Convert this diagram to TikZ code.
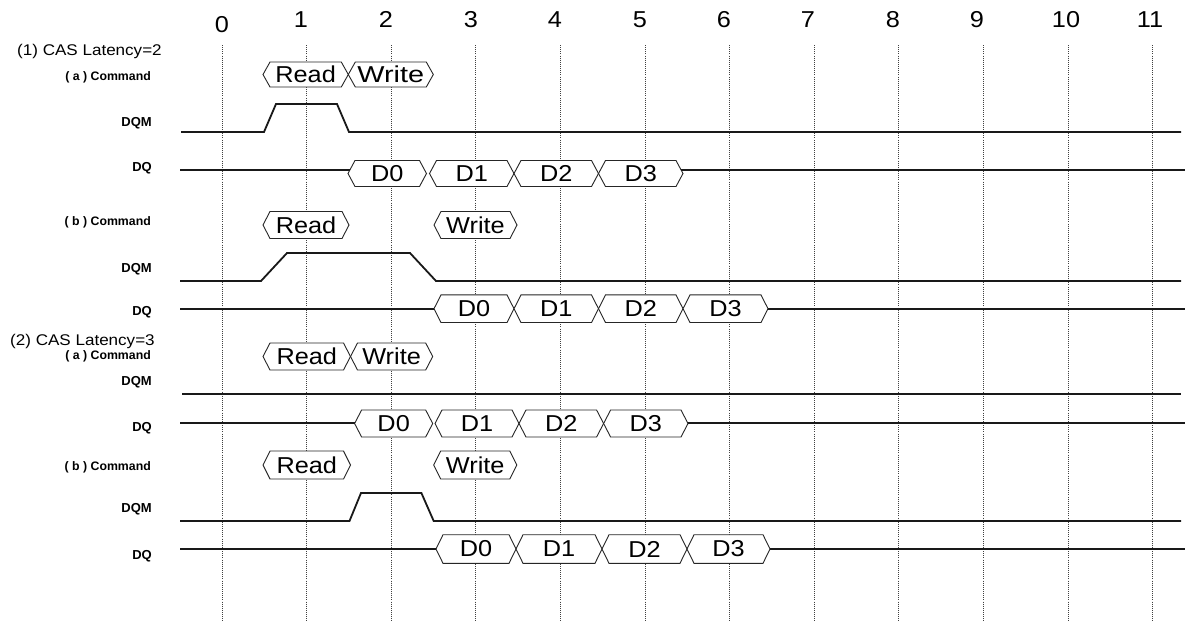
\documentclass[tikz,border=0pt]{standalone}
\usepackage{fontspec}
\setmainfont{Liberation Sans}
\newfontfamily\widefont{Liberation Sans}[FakeStretch=1.1]
\newcommand{\HexCell}[6]{%
  \draw[hexline] (#2,#4) -- (#2+7,#4-#5) -- (#3-7,#4-#5) -- (#3,#4) -- (#3-7,#4+#5) -- (#2+7,#4+#5) -- cycle;
  \node[hextext] (#1) at ({(#2+#3)/2},#4) {#6};
}
\begin{document}
\begin{tikzpicture}[x=1pt,y=-1pt,
  gridline/.style={line width=0.8pt, dash pattern=on 1pt off 1.1pt, black!75},
  sig/.style={line width=1.8pt, black!90},
  hexline/.style={line width=0.9pt, black!85, fill=white},
  hextext/.style={inner sep=0pt, font=\widefont\fontsize{23}{23}\selectfont},
  ticklbl/.style={inner sep=0pt, anchor=base, font=\widefont\fontsize{23}{23}\selectfont},
  titlelbl/.style={inner sep=0pt, anchor=base west, font=\widefont\fontsize{15.5}{15.5}\selectfont},
  cmdlbl/.style={inner sep=0pt, anchor=base east, font=\bfseries\fontsize{12.3}{12.3}\selectfont},
  siglbl/.style={inner sep=0pt, anchor=base east, font=\bfseries\fontsize{13}{13}\selectfont}]
\useasboundingbox (0,0) rectangle (1186,622);
\fill[white] (0,0) rectangle (1186,622);

% grid lines and tick labels
\foreach \k in {0,...,11}{
  \coordinate (gt\k) at ({222+84.6*\k},45);
  \coordinate (gb\k) at ({222+84.6*\k},621);
  \draw[gridline] (gt\k) -- (gb\k);
}
\node[ticklbl] (t0) at (222,32) {0};
\node[ticklbl] (t1) at (301,27.5) {1};
\node[ticklbl] (t2) at (386,27.5) {2};
\node[ticklbl] (t3) at (471,27.5) {3};
\node[ticklbl] (t4) at (555,27.5) {4};
\node[ticklbl] (t5) at (640,27.5) {5};
\node[ticklbl] (t6) at (724,27.5) {6};
\node[ticklbl] (t7) at (808,27.5) {7};
\node[ticklbl] (t8) at (893,27.5) {8};
\node[ticklbl] (t9) at (977,27.5) {9};
\node[ticklbl] (t10) at (1066,27.5) {10};
\node[ticklbl] (t11) at (1150,27.5) {11};

% ===== (1) CAS Latency = 2 =====
\node[titlelbl] (title1) at (17,55) {(1) CAS Latency=2};
% (a)
\node[cmdlbl] (c1a) at (151,80) {( a ) Command};
\HexCell{r1a}{263}{348.3}{74.5}{12.5}{Read}
\HexCell{w1a}{348.3}{433.3}{74.5}{12.5}{\scalebox{1.14}[1]{Write}}
\node[siglbl] (m1a) at (152,126.7) {DQM};
\coordinate (m1as) at (181,132);
\coordinate (m1ae) at (1181,132);
\draw[sig] (m1as) -- (264,132) -- (276,104) -- (337,104) -- (349,132) -- (m1ae);
\node[siglbl] (q1a) at (152,171) {DQ};
\HexCell{d01a}{348}{426.5}{173.5}{13}{D0}
\HexCell{d11a}{429.5}{514}{173.5}{13}{D1}
\HexCell{d21a}{514}{598.5}{173.5}{13}{D2}
\HexCell{d31a}{598.5}{683}{173.5}{13}{D3}
\coordinate (q1as) at (180,170);
\coordinate (q1al) at (349.9,170);
\coordinate (q1ar) at (681.1,170);
\coordinate (q1ae) at (1185,170);
\draw[sig] (q1as) -- (q1al);
\draw[sig] (q1ar) -- (q1ae);
% (b)
\node[cmdlbl] (c1b) at (151,225.5) {( b ) Command};
\HexCell{r1b}{263}{349}{225}{13.5}{Read}
\HexCell{w1b}{434}{517}{225}{13.5}{Write}
\node[siglbl] (m1b) at (152,272) {DQM};
\coordinate (m1bs) at (180,281);
\coordinate (m1be) at (1181,281);
\draw[sig] (m1bs) -- (261,281) -- (287,253) -- (410,253) -- (436,281) -- (m1be);
\node[siglbl] (q1b) at (152,315.5) {DQ};
\HexCell{d01b}{434}{514}{308.7}{13.8}{D0}
\HexCell{d11b}{514}{598.5}{308.7}{13.8}{D1}
\HexCell{d21b}{598.5}{683}{308.7}{13.8}{D2}
\HexCell{d31b}{683}{768}{308.7}{13.8}{D3}
\coordinate (q1bs) at (180,308.7);
\coordinate (q1bl) at (434,308.7);
\coordinate (q1br) at (768,308.7);
\coordinate (q1be) at (1185,308.7);
\draw[sig] (q1bs) -- (q1bl);
\draw[sig] (q1br) -- (q1be);

% ===== (2) CAS Latency = 3 =====
\node[titlelbl] (title2) at (10,345) {(2) CAS Latency=3};
% (a)
\node[cmdlbl] (c2a) at (151,359.5) {( a ) Command};
\HexCell{r2a}{263}{350.5}{356.5}{13.5}{Read}
\HexCell{w2a}{350.5}{432.7}{356.5}{13.5}{Write}
\node[siglbl] (m2a) at (152,385.7) {DQM};
\coordinate (m2as) at (182,394);
\coordinate (m2ae) at (1181,394);
\draw[sig] (m2as) -- (m2ae);
\node[siglbl] (q2a) at (152,431) {DQ};
\HexCell{d02a}{354.6}{432.7}{423.5}{13.5}{D0}
\HexCell{d12a}{435}{519}{423.5}{13.5}{D1}
\HexCell{d22a}{519}{603.6}{423.5}{13.5}{D2}
\HexCell{d32a}{603.6}{688}{423.5}{13.5}{D3}
\coordinate (q2as) at (180,423);
\coordinate (q2al) at (354.8,423);
\coordinate (q2ar) at (687.8,423);
\coordinate (q2ae) at (1185,423);
\draw[sig] (q2as) -- (q2al);
\draw[sig] (q2ar) -- (q2ae);
% (b)
\node[cmdlbl] (c2b) at (151,470.5) {( b ) Command};
\HexCell{r2b}{263}{350.5}{465}{14}{Read}
\HexCell{w2b}{433.7}{516.8}{465}{14}{Write}
\node[siglbl] (m2b) at (152,512.5) {DQM};
\coordinate (m2bs) at (180,521);
\coordinate (m2be) at (1181,521);
\draw[sig] (m2bs) -- (349.5,521) -- (361,493) -- (421.4,493) -- (433.7,521) -- (m2be);
\node[siglbl] (q2b) at (152,559) {DQ};
\HexCell{d02b}{436}{516}{549}{14.3}{D0}
\HexCell{d12b}{516}{602}{549}{14.3}{D1}
\HexCell{d22b}{602}{687}{549}{14.3}{D2}
\HexCell{d32b}{687}{770}{549}{14.3}{D3}
\coordinate (q2bs) at (180,549);
\coordinate (q2bl) at (436,549);
\coordinate (q2br) at (770,549);
\coordinate (q2be) at (1185,549);
\draw[sig] (q2bs) -- (q2bl);
\draw[sig] (q2br) -- (q2be);
\end{tikzpicture}
\end{document}
